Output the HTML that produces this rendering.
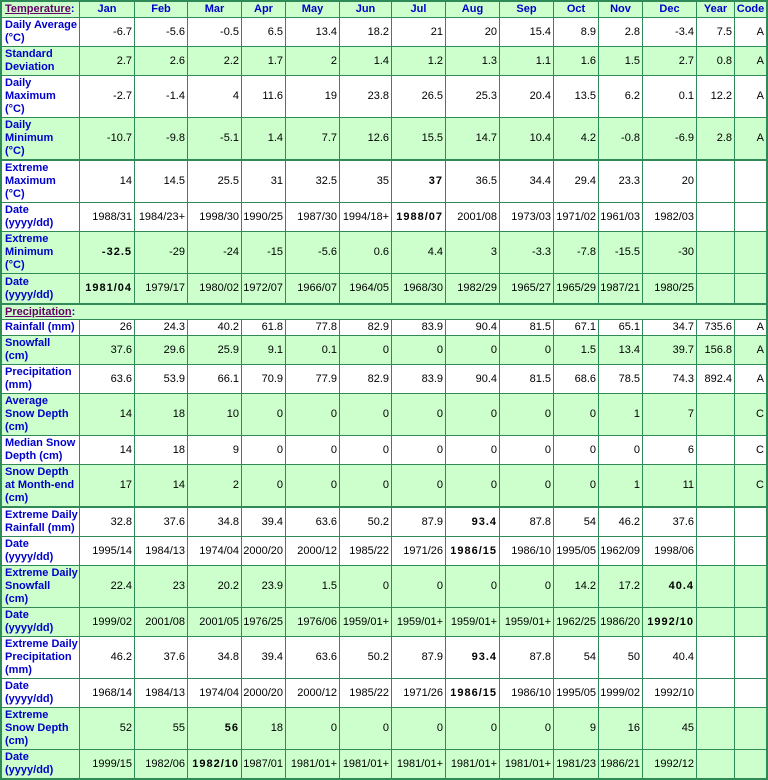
<!DOCTYPE html>
<html>
<head>
<meta charset="utf-8">
<style>
html,body{margin:0;padding:0;background:#fff;}
.w{position:absolute;left:0;top:0;width:768px;height:780px;box-sizing:border-box;border:2px solid #2e8b57;display:grid;
grid-template-columns:78px 55px 53px 54px 44px 54px 52px 54px 54px 54px 45px 44px 54px 38px 31px;
grid-template-rows:16px 29px 29px 42px 43px 42px 29px 42px 31px 15px 16px 29px 29px 42px 29px 43px 29px 29px 42px 29px 42px 29px 42px 28px;
background:#fff;}
.r{display:contents}
.r>div{box-sizing:border-box;border-right:1px solid #2e8b57;border-bottom:1px solid #2e8b57;display:flex;align-items:center;justify-content:flex-end;padding:0 2px 0 1px;white-space:nowrap;font:11px/13px "Liberation Sans",Arial,sans-serif;color:#000;overflow:visible;background:#fff}
.r>div:last-child{border-right:0}
.r>div.l{justify-content:flex-start;font-weight:bold;color:#0000cc;padding-left:3px}
.g>div{background:#ccffcc !important}
.t>div{border-bottom-width:2px}
.e>div{border-bottom:0}
.h>div{justify-content:center;font-weight:bold;color:#0000cc;padding:0}
.h>div.l{padding-left:3px}
u{color:#660066}
b{letter-spacing:1px}
</style>
</head>
<body>
<div class="w">
<div class="r g h"><div class="l"><span><u>Temperature</u>:</span></div><div>Jan</div><div>Feb</div><div>Mar</div><div>Apr</div><div>May</div><div>Jun</div><div>Jul</div><div>Aug</div><div>Sep</div><div>Oct</div><div>Nov</div><div>Dec</div><div>Year</div><div>Code</div></div>

<div class="r"><div class="l"><span>Daily Average<br>(°C)</span></div><div>-6.7</div><div>-5.6</div><div>-0.5</div><div>6.5</div><div>13.4</div><div>18.2</div><div>21</div><div>20</div><div>15.4</div><div>8.9</div><div>2.8</div><div>-3.4</div><div>7.5</div><div>A</div></div>

<div class="r g"><div class="l"><span>Standard<br>Deviation</span></div><div>2.7</div><div>2.6</div><div>2.2</div><div>1.7</div><div>2</div><div>1.4</div><div>1.2</div><div>1.3</div><div>1.1</div><div>1.6</div><div>1.5</div><div>2.7</div><div>0.8</div><div>A</div></div>

<div class="r"><div class="l"><span>Daily<br>Maximum<br>(°C)</span></div><div>-2.7</div><div>-1.4</div><div>4</div><div>11.6</div><div>19</div><div>23.8</div><div>26.5</div><div>25.3</div><div>20.4</div><div>13.5</div><div>6.2</div><div>0.1</div><div>12.2</div><div>A</div></div>

<div class="r g t"><div class="l"><span>Daily<br>Minimum<br>(°C)</span></div><div>-10.7</div><div>-9.8</div><div>-5.1</div><div>1.4</div><div>7.7</div><div>12.6</div><div>15.5</div><div>14.7</div><div>10.4</div><div>4.2</div><div>-0.8</div><div>-6.9</div><div>2.8</div><div>A</div></div>

<div class="r"><div class="l"><span>Extreme<br>Maximum<br>(°C)</span></div><div>14</div><div>14.5</div><div>25.5</div><div>31</div><div>32.5</div><div>35</div><div><b>37</b></div><div>36.5</div><div>34.4</div><div>29.4</div><div>23.3</div><div>20</div><div></div><div></div></div>

<div class="r"><div class="l"><span>Date<br>(yyyy/dd)</span></div><div>1988/31</div><div>1984/23+</div><div>1998/30</div><div>1990/25</div><div>1987/30</div><div>1994/18+</div><div><b>1988/07</b></div><div>2001/08</div><div>1973/03</div><div>1971/02</div><div>1961/03</div><div>1982/03</div><div></div><div></div></div>

<div class="r g"><div class="l"><span>Extreme<br>Minimum<br>(°C)</span></div><div><b>-32.5</b></div><div>-29</div><div>-24</div><div>-15</div><div>-5.6</div><div>0.6</div><div>4.4</div><div>3</div><div>-3.3</div><div>-7.8</div><div>-15.5</div><div>-30</div><div></div><div></div></div>

<div class="r g t"><div class="l"><span>Date<br>(yyyy/dd)</span></div><div><b>1981/04</b></div><div>1979/17</div><div>1980/02</div><div>1972/07</div><div>1966/07</div><div>1964/05</div><div>1968/30</div><div>1982/29</div><div>1965/27</div><div>1965/29</div><div>1987/21</div><div>1980/25</div><div></div><div></div></div>

<div class="r g"><div class="l" style="grid-column:1/-1"><span><u>Precipitation</u>:</span></div></div>

<div class="r"><div class="l"><span>Rainfall (mm)</span></div><div>26</div><div>24.3</div><div>40.2</div><div>61.8</div><div>77.8</div><div>82.9</div><div>83.9</div><div>90.4</div><div>81.5</div><div>67.1</div><div>65.1</div><div>34.7</div><div>735.6</div><div>A</div></div>

<div class="r g"><div class="l"><span>Snowfall<br>(cm)</span></div><div>37.6</div><div>29.6</div><div>25.9</div><div>9.1</div><div>0.1</div><div>0</div><div>0</div><div>0</div><div>0</div><div>1.5</div><div>13.4</div><div>39.7</div><div>156.8</div><div>A</div></div>

<div class="r"><div class="l"><span>Precipitation<br>(mm)</span></div><div>63.6</div><div>53.9</div><div>66.1</div><div>70.9</div><div>77.9</div><div>82.9</div><div>83.9</div><div>90.4</div><div>81.5</div><div>68.6</div><div>78.5</div><div>74.3</div><div>892.4</div><div>A</div></div>

<div class="r g"><div class="l"><span>Average<br>Snow Depth<br>(cm)</span></div><div>14</div><div>18</div><div>10</div><div>0</div><div>0</div><div>0</div><div>0</div><div>0</div><div>0</div><div>0</div><div>1</div><div>7</div><div></div><div>C</div></div>

<div class="r"><div class="l"><span>Median Snow<br>Depth (cm)</span></div><div>14</div><div>18</div><div>9</div><div>0</div><div>0</div><div>0</div><div>0</div><div>0</div><div>0</div><div>0</div><div>0</div><div>6</div><div></div><div>C</div></div>

<div class="r g t"><div class="l"><span>Snow Depth<br>at Month-end<br>(cm)</span></div><div>17</div><div>14</div><div>2</div><div>0</div><div>0</div><div>0</div><div>0</div><div>0</div><div>0</div><div>0</div><div>1</div><div>11</div><div></div><div>C</div></div>

<div class="r"><div class="l"><span>Extreme Daily<br>Rainfall (mm)</span></div><div>32.8</div><div>37.6</div><div>34.8</div><div>39.4</div><div>63.6</div><div>50.2</div><div>87.9</div><div><b>93.4</b></div><div>87.8</div><div>54</div><div>46.2</div><div>37.6</div><div></div><div></div></div>

<div class="r"><div class="l"><span>Date<br>(yyyy/dd)</span></div><div>1995/14</div><div>1984/13</div><div>1974/04</div><div>2000/20</div><div>2000/12</div><div>1985/22</div><div>1971/26</div><div><b>1986/15</b></div><div>1986/10</div><div>1995/05</div><div>1962/09</div><div>1998/06</div><div></div><div></div></div>

<div class="r g"><div class="l"><span>Extreme Daily<br>Snowfall<br>(cm)</span></div><div>22.4</div><div>23</div><div>20.2</div><div>23.9</div><div>1.5</div><div>0</div><div>0</div><div>0</div><div>0</div><div>14.2</div><div>17.2</div><div><b>40.4</b></div><div></div><div></div></div>

<div class="r g"><div class="l"><span>Date<br>(yyyy/dd)</span></div><div>1999/02</div><div>2001/08</div><div>2001/05</div><div>1976/25</div><div>1976/06</div><div>1959/01+</div><div>1959/01+</div><div>1959/01+</div><div>1959/01+</div><div>1962/25</div><div>1986/20</div><div><b>1992/10</b></div><div></div><div></div></div>

<div class="r"><div class="l"><span>Extreme Daily<br>Precipitation<br>(mm)</span></div><div>46.2</div><div>37.6</div><div>34.8</div><div>39.4</div><div>63.6</div><div>50.2</div><div>87.9</div><div><b>93.4</b></div><div>87.8</div><div>54</div><div>50</div><div>40.4</div><div></div><div></div></div>

<div class="r"><div class="l"><span>Date<br>(yyyy/dd)</span></div><div>1968/14</div><div>1984/13</div><div>1974/04</div><div>2000/20</div><div>2000/12</div><div>1985/22</div><div>1971/26</div><div><b>1986/15</b></div><div>1986/10</div><div>1995/05</div><div>1999/02</div><div>1992/10</div><div></div><div></div></div>

<div class="r g"><div class="l"><span>Extreme<br>Snow Depth<br>(cm)</span></div><div>52</div><div>55</div><div><b>56</b></div><div>18</div><div>0</div><div>0</div><div>0</div><div>0</div><div>0</div><div>9</div><div>16</div><div>45</div><div></div><div></div></div>

<div class="r g e"><div class="l"><span>Date<br>(yyyy/dd)</span></div><div>1999/15</div><div>1982/06</div><div><b>1982/10</b></div><div>1987/01</div><div>1981/01+</div><div>1981/01+</div><div>1981/01+</div><div>1981/01+</div><div>1981/01+</div><div>1981/23</div><div>1986/21</div><div>1992/12</div><div></div><div></div></div>
</div>
</body>
</html>
